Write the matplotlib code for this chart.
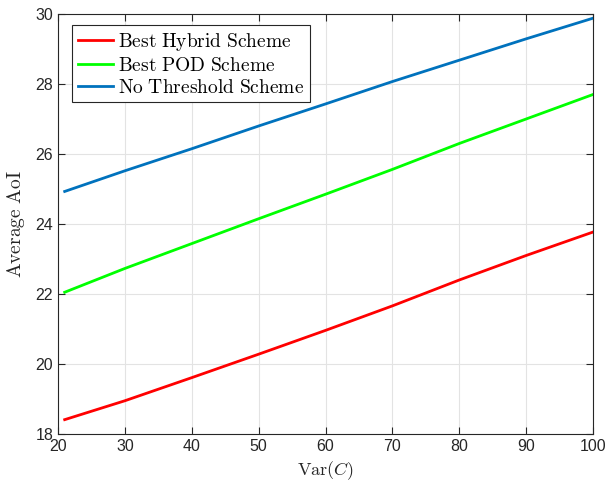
import matplotlib
matplotlib.use("Agg")
import matplotlib.pyplot as plt

plt.rcParams['font.family'] = ['Liberation Sans', 'DejaVu Sans']
plt.rcParams['mathtext.fontset'] = 'cm'

var_c = [21, 30, 40, 50, 60, 70, 80, 90, 100]
hybrid = [18.41, 18.95, 19.61, 20.28, 20.96, 21.66, 22.40, 23.10, 23.77]
pod = [22.05, 22.73, 23.44, 24.15, 24.85, 25.56, 26.30, 27.00, 27.70]
no_thr = [24.93, 25.52, 26.15, 26.80, 27.43, 28.07, 28.68, 29.29, 29.88]

labels = [r'$\mathrm{Best\ Hybrid\ Scheme}$', r'$\mathrm{Best\ POD\ Scheme}$',
          r'$\mathrm{No\ Threshold\ Scheme}$']
colors = ['#ff0000', '#00ff00', '#0072bd']
xticks = [20, 30, 40, 50, 60, 70, 80, 90, 100]
yticks = [18, 20, 22, 24, 26, 28, 30]

fig = plt.figure(figsize=(6.08, 4.83), dpi=100)
ax = fig.add_axes([58/608, 1-434/483, (593-58)/608, (434-14)/483])

for ys, c, lab in zip([hybrid, pod, no_thr], colors, labels):
    ax.plot(var_c, ys, color=c, lw=2.0, label=lab)

ax.set_xlim(20, 100)
ax.set_ylim(18, 30)
ax.set_xticks(xticks)
ax.set_yticks(yticks)
ax.grid(True, color='#e3e3e3', lw=0.8)
ax.set_axisbelow(True)
ax.tick_params(direction='in', top=True, right=True, labelsize=11.5,
               colors='#262626', length=5, width=0.8)
for s in ax.spines.values():
    s.set_color('#262626')
    s.set_linewidth(0.8)

ax.set_xlabel(r'$\mathrm{Var}(C)$', fontsize=13, color='#262626', labelpad=4)
ax.set_ylabel(r'$\mathrm{Average\ AoI}$', fontsize=14, color='#262626', labelpad=6)

leg = ax.legend(loc='upper left', bbox_to_anchor=(71.7/608, 1-25/483),
                bbox_transform=fig.transFigure, borderaxespad=0,
                fontsize=14, fancybox=False, framealpha=1,
                edgecolor='#262626', handlelength=1.8, handletextpad=0.3,
                labelspacing=0.2, borderpad=0.3)
leg.get_frame().set_linewidth(0.8)

fig.savefig('out.png', dpi=100)
